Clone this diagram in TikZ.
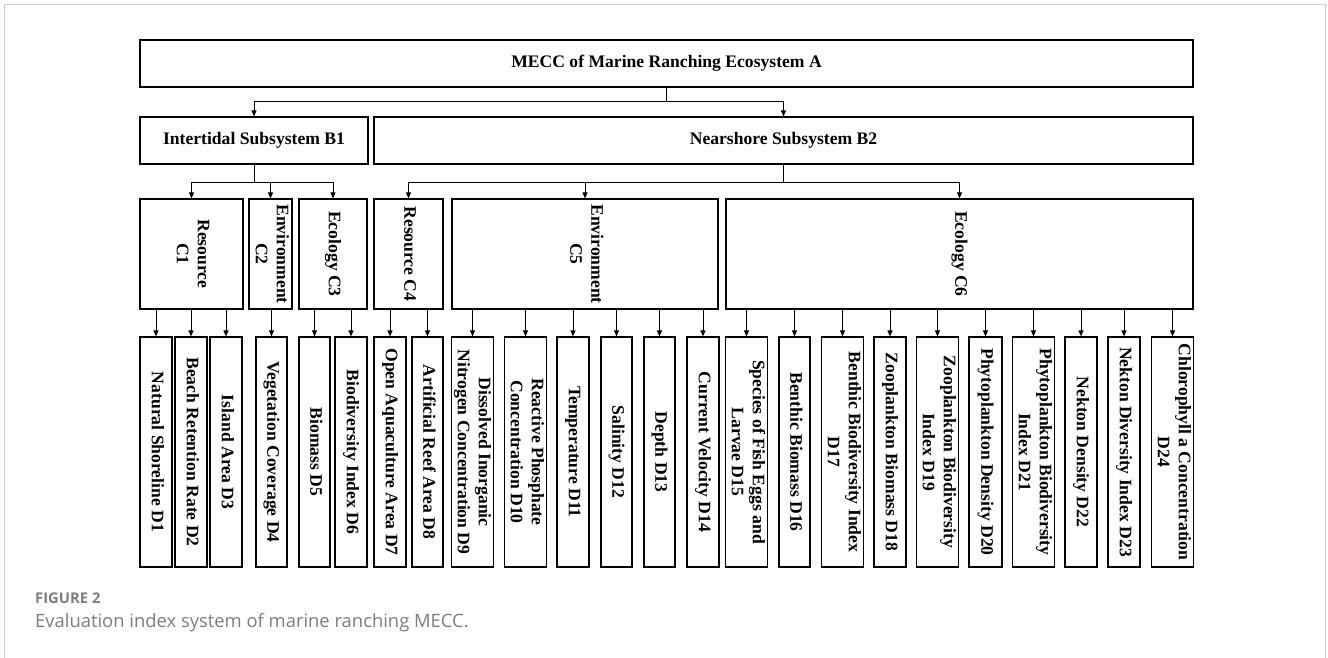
\documentclass[tikz,border=0pt]{standalone}
\usepackage{fontspec}
\setmainfont{Liberation Serif}
\newfontfamily\capfont{Open Sans}
\usepackage{graphicx}
\usetikzlibrary{arrows.meta}
\definecolor{capgray}{RGB}{125,125,125}
\definecolor{framegray}{RGB}{205,205,205}
\newcommand\rtext[1]{\rotatebox{-90}{\begin{tabular}{@{}c@{}}#1\end{tabular}}}
\begin{document}
\begin{tikzpicture}[x=1pt,y=-1pt,
  box/.style={draw=black, line width=1.2pt, inner sep=0pt, align=center,
    font=\bfseries\fontsize{17.6}{21}\selectfont},
  cbox/.style={box, minimum height=110pt},
  dbox/.style={box, minimum height=230pt},
  ln/.style={line width=1pt},
  arr/.style={line width=1pt, -{Triangle[length=6pt,width=5pt]}}]
\useasboundingbox (0,0) rectangle (1328,658);
\draw[framegray, line width=1pt] (4.5,658) -- (4.5,4.5) -- (1325.5,4.5) -- (1325.5,658);

% level A and B
\node[box, minimum width=1053pt, minimum height=47pt] (A) at (666.5,63.5) {MECC of Marine Ranching Ecosystem A};
\node[box, minimum width=228pt, minimum height=47pt] (B1) at (254,140.5) {Intertidal Subsystem B1};
\node[box, minimum width=819pt, minimum height=47pt] (B2) at (783.5,140.5) {Nearshore Subsystem B2};

% level C
\node[cbox, minimum width=103pt] (C1) at (191.5,254) {\rtext{Resource\\C1}};
\node[cbox, minimum width=43pt] (C2) at (270.5,254) {\rtext{Environment\\C2}};
\node[cbox, minimum width=68pt] (C3) at (333,254) {\rtext{Ecology C3}};
\node[cbox, minimum width=69pt] (C4) at (408.5,254) {\rtext{Resource C4}};
\node[cbox, minimum width=266pt] (C5) at (585,254) {\rtext{Environment\\C5}};
\node[cbox, minimum width=467pt] (C6) at (959.5,254) {\rtext{Ecology C6}};

% level D
\node[dbox, minimum width=32pt] (D1) at (156,452) {\rtext{Natural Shoreline D1}};
\node[dbox, minimum width=32pt] (D2) at (191,452) {\rtext{Beach Retention Rate D2}};
\node[dbox, minimum width=32pt] (D3) at (226,452) {\rtext{Island Area D3}};
\node[dbox, minimum width=31pt] (D4) at (271.5,452) {\rtext{Vegetation Coverage D4}};
\node[dbox, minimum width=31pt] (D5) at (314.5,452) {\rtext{Biomass D5}};
\node[dbox, minimum width=32pt] (D6) at (351,452) {\rtext{Biodiversity Index D6}};
\node[dbox, minimum width=32pt] (D7) at (390,452) {\rtext{Open Aquaculture Area D7}};
\node[dbox, minimum width=31pt] (D8) at (427.5,452) {\rtext{Artificial Reef Area D8}};
\node[dbox, minimum width=41pt] (D9) at (472.5,452) {\rtext{Dissolved Inorganic\\Nitrogen Concentration D9}};
\node[dbox, minimum width=41pt] (D10) at (525.5,452) {\rtext{Reactive Phosphate\\Concentration D10}};
\node[dbox, minimum width=32pt] (D11) at (573,452) {\rtext{Temperature D11}};
\node[dbox, minimum width=31pt] (D12) at (616.5,452) {\rtext{Salinity D12}};
\node[dbox, minimum width=31pt] (D13) at (659.5,452) {\rtext{Depth D13}};
\node[dbox, minimum width=32pt] (D14) at (703,452) {\rtext{Current Velocity D14}};
\node[dbox, minimum width=41pt] (D15) at (746.5,452) {\rtext{Species of Fish Eggs and\\Larvae D15}};
\node[dbox, minimum width=31pt] (D16) at (794.5,452) {\rtext{Benthic Biomass D16}};
\node[dbox, minimum width=41pt] (D17) at (842.5,452) {\rtext{Benthic Biodiversity Index\\D17}};
\node[dbox, minimum width=32pt] (D18) at (890,452) {\rtext{Zooplankton Biomass D18}};
\node[dbox, minimum width=41pt] (D19) at (937.5,452) {\rtext{Zooplankton Biodiversity\\Index D19}};
\node[dbox, minimum width=33pt] (D20) at (985.5,452) {\rtext{Phytoplankton Density D20}};
\node[dbox, minimum width=41pt] (D21) at (1033.5,452) {\rtext{Phytoplankton Biodiversity\\Index D21}};
\node[dbox, minimum width=32pt] (D22) at (1081,452) {\rtext{Nekton Density D22}};
\node[dbox, minimum width=32pt] (D23) at (1124,452) {\rtext{Nekton Diversity Index D23}};
\node[dbox, minimum width=41pt] (D24) at (1172.5,452) {\rtext{Chlorophyll a Concentration\\D24}};

% connectors A -> B
\coordinate (jA) at (666.5,102);
\draw[ln] (A.south) -- (jA);
\draw[arr] (jA) -| (B1.north);
\draw[arr] (jA) -| (B2.north);

% connectors B1 -> C1..C3
\coordinate (jB1) at (254,182);
\draw[ln] (B1.south) -- (jB1);
\draw[arr] (jB1) -| (C1.north);
\draw[arr] (jB1) -| (C3.north);
\draw[arr] (jB1 -| C2.north) -- (C2.north);

% connectors B2 -> C4..C6
\coordinate (jB2) at (783.5,182);
\draw[ln] (B2.south) -- (jB2);
\draw[arr] (jB2) -| (C4.north);
\draw[arr] (jB2) -| (C6.north);
\draw[arr] (jB2 -| C5.north) -- (C5.north);

% connectors C -> D
\foreach \c/\d in {C1/D1,C1/D2,C1/D3,C2/D4,C3/D5,C3/D6,C4/D7,C4/D8,
  C5/D9,C5/D10,C5/D11,C5/D12,C5/D13,C5/D14,
  C6/D15,C6/D16,C6/D17,C6/D18,C6/D19,C6/D20,C6/D21,C6/D22,C6/D23,C6/D24}
  \draw[arr] (\c.south -| \d.north) -- (\d.north);

% caption
\node[anchor=base west, inner sep=0pt, text=capgray, font=\capfont\bfseries\fontsize{14.8}{17}\selectfont] (fig) at (35,603) {FIGURE 2};
\node[anchor=base west, inner sep=0pt, text=capgray, font=\capfont\fontsize{18.4}{22}\selectfont] (cap) at (35,627) {Evaluation index system of marine ranching MECC.};
\end{tikzpicture}
\end{document}
